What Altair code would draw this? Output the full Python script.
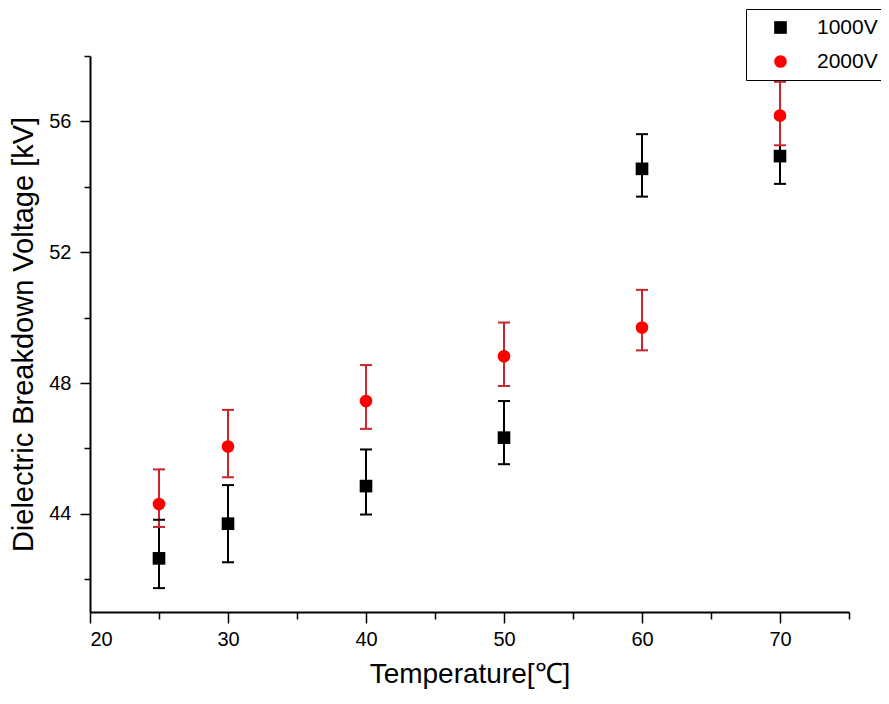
import altair as alt
import pandas as pd

temps = [25, 30, 40, 50, 60, 70]
series_names = ["1000V", "2000V"]

v1000 = [42.64, 43.70, 44.85, 46.33, 54.55, 54.94]
v1000_lo = [41.73, 42.52, 43.98, 45.52, 53.70, 54.09]
v1000_hi = [43.82, 44.88, 45.97, 47.45, 55.61, 56.12]

v2000 = [44.30, 46.06, 47.45, 48.82, 49.70, 56.18]
v2000_lo = [43.60, 45.12, 46.60, 47.91, 49.00, 55.27]
v2000_hi = [45.36, 47.18, 48.55, 49.85, 50.85, 57.21]

x_ticks = [20, 25, 30, 35, 40, 45, 50, 55, 60, 65, 70, 75]
y_ticks = [42, 44, 46, 48, 50, 52, 54, 56, 58]

rows = []
for s, vals, los, his in [("1000V", v1000, v1000_lo, v1000_hi),
                          ("2000V", v2000, v2000_lo, v2000_hi)]:
    for t, v, lo, hi in zip(temps, vals, los, his):
        rows.append({"T": t, "V": v, "lo": lo, "hi": hi, "series": s})
df = pd.DataFrame(rows)

FONT = "Liberation Sans, Arial"

xscale = alt.Scale(domain=[20, 75], nice=False, zero=False)
yscale = alt.Scale(domain=[41, 58], nice=False, zero=False)

xaxis = alt.Axis(values=x_ticks, labelExpr="datum.value % 10 == 0 ? datum.label : ''",
                 title="Temperature[℃]", grid=False, labelFontSize=20, labelFont=FONT,
                 tickSize=alt.condition("datum.value % 10 == 0", alt.value(11), alt.value(7)),
                 labelPadding=6, titlePadding=11, titleFontSize=28)
yaxis = alt.Axis(values=y_ticks, labelExpr="datum.value % 4 == 0 ? datum.label : ''",
                 title="Dielectric Breakdown Voltage [kV]", grid=False, labelFontSize=20,
                 tickSize=alt.condition("datum.value % 4 == 0", alt.value(10), alt.value(6)),
                 labelFont=FONT, labelPadding=9, titlePadding=10, titleFontSize=29)

err_color = alt.condition(alt.datum.series == "2000V", alt.value("#c8262b"), alt.value("#000000"))

legend = alt.Legend(title=None, orient="none", legendX=656, legendY=-47,
                    strokeColor="black", fillColor="white", padding=8,
                    labelFontSize=21, labelFont=FONT, symbolSize=160,
                    symbolOffset=16, labelOffset=26, rowPadding=12,
                    symbolStrokeWidth=0)

base = alt.Chart(df)

rules = base.mark_rule(strokeWidth=2).encode(
    x=alt.X("T:Q", scale=xscale, axis=xaxis),
    y=alt.Y("lo:Q", scale=yscale, axis=yaxis),
    y2="hi:Q",
    color=err_color,
)

caps = base.transform_fold(["lo", "hi"], as_=["end", "val"]).mark_tick(
    orient="horizontal", size=12, thickness=2, opacity=1
).encode(
    x=alt.X("T:Q", scale=xscale),
    y=alt.Y("val:Q", scale=yscale),
    color=err_color,
)

points = base.mark_point(filled=True, opacity=1, size=160, strokeWidth=0).encode(
    x=alt.X("T:Q", scale=xscale),
    y=alt.Y("V:Q", scale=yscale),
    color=alt.Color("series:N", scale=alt.Scale(domain=series_names, range=["#000000", "#ff0000"]),
                    legend=legend),
    shape=alt.Shape("series:N", scale=alt.Scale(domain=series_names, range=["square", "circle"]),
                    legend=legend),
)

chart = alt.layer(rules, caps, points).properties(
    width=759, height=556,
    autosize=alt.AutoSizeParams(type="none"),
    padding={"left": 82, "top": 48, "right": 32, "bottom": 80},
).configure_view(stroke=None).configure_axis(
    domainColor="black", domainWidth=2, tickColor="black", tickWidth=1.5,
    labelColor="black", titleFont=FONT, titleFontWeight="normal", titleColor="black",
).configure_legend(labelColor="black")

chart.save("out.html", embed_options={"renderer": "svg", "actions": False})
